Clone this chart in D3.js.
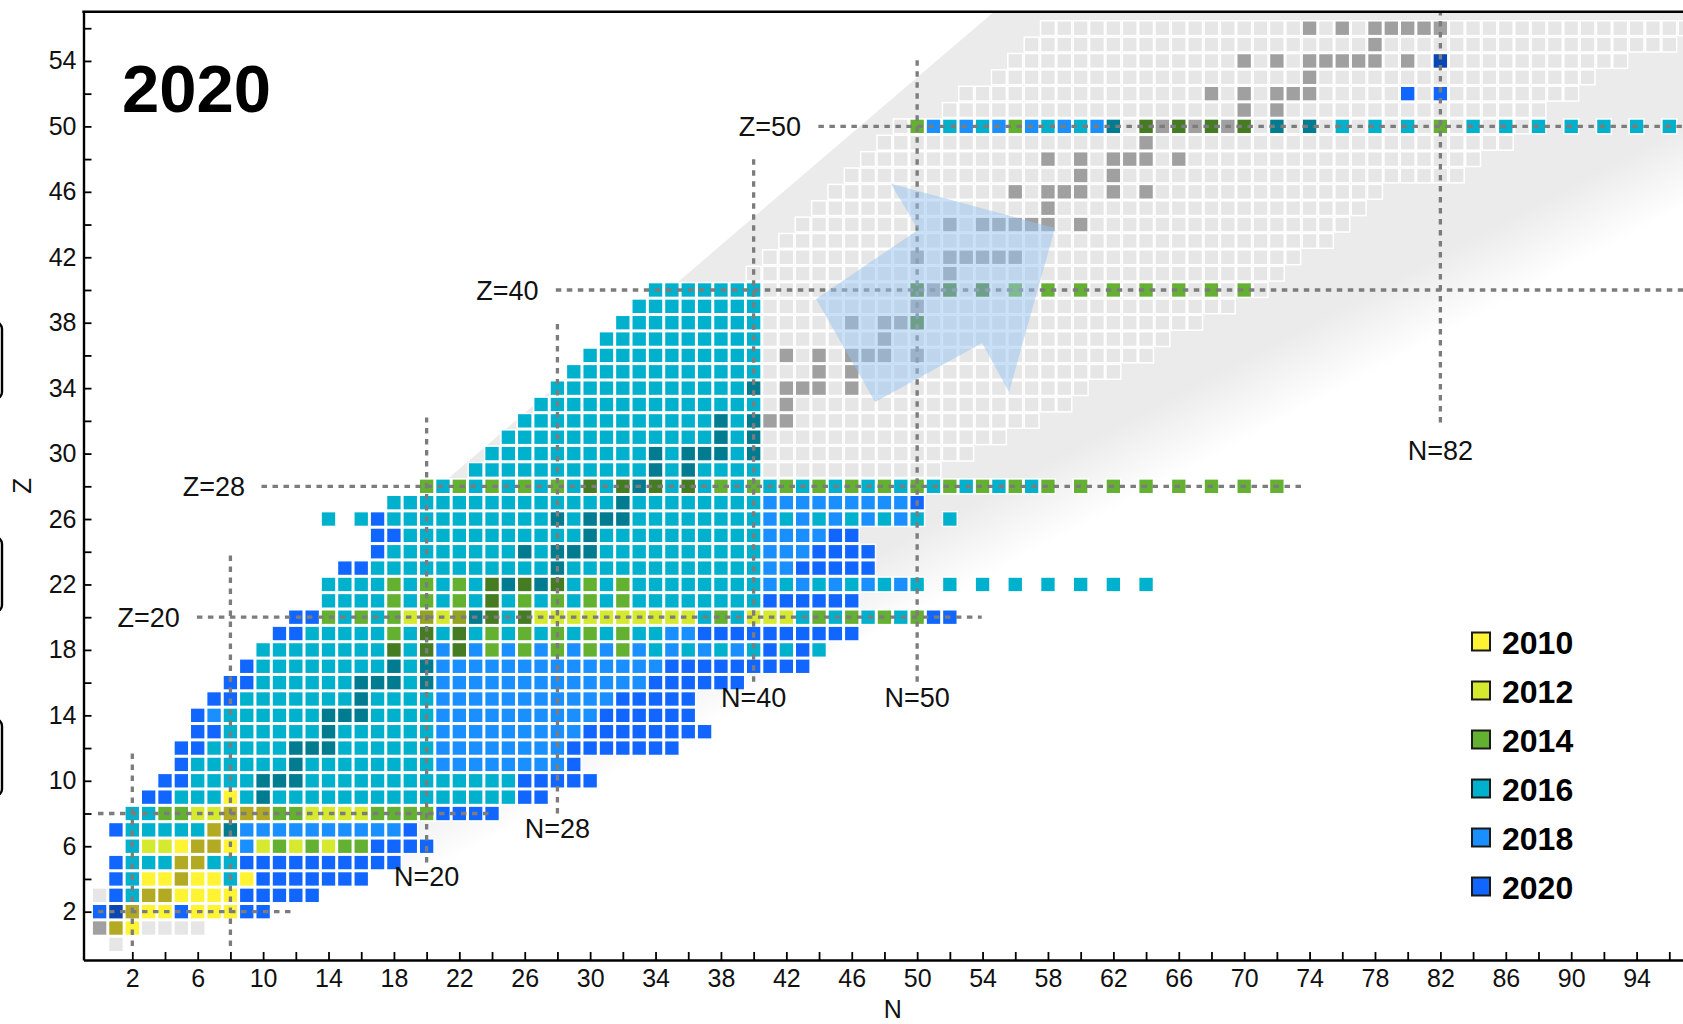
<!DOCTYPE html>
<html>
<head>
<meta charset="utf-8">
<script src="https://cdn.jsdelivr.net/npm/d3@7"></script>
<style>
html,body{margin:0;padding:0;background:#fff;}
svg{display:block;}
text{font-family:"Liberation Sans",Arial,Helvetica,sans-serif;}
</style>
</head>
<body>
<svg id="chart" width="1683" height="1024"></svg>
<script>
// ================= DATA =================
const legendYears = ["2010", "2012", "2014", "2016", "2018", "2020"];
const yearCodes   = ["a", "b", "c", "d", "e", "f"];
const yearColors  = ["#FFF433", "#D5EA2E", "#64B131", "#00B1CD", "#1A8FFF", "#1066FF"];
const unmeasuredColor = "#E6E6E6";

// [Z, first N, cell codes]  (a..f = year computed, g = not computed, . = no cell; digits = repeat count)
const cellRows = [
  [0, 1, "g"],
  [1, 0, "ga2g4"],
  [2, 0, "f2a3fa3f2"],
  [3, 0, "gfda6f5"],
  [4, 1, "fda5daf7"],
  [5, 1, "fd3a2d2f10"],
  [6, 2, "db2a4ebcbcbc2f4"],
  [7, 1, "fd5ade10f"],
  [8, 2, "d2c2b2a3c2b4c4f4"],
  [9, 3, "f2d3ad17f2"],
  [10, 4, "f2d20f5"],
  [11, 5, "fd15e8f"],
  [12, 5, "f2d14e8f7"],
  [13, 6, "f2d13e9f8"],
  [14, 6, "fed13e10f6"],
  [15, 7, "f2d12e11f5"],
  [16, 8, "f2d11e13f6"],
  [17, 9, "fd11e14f9"],
  [18, 10, "d8cdc" + "ecececececec" + "edededed" + "fdfd"],
  [19, 11, "f2d5c" + "dcdcdcdcdcdcdc" + "d2e2f10"],
  [20, 12, "f2cdcdc" + "b4" + "dcdc" + "b10" + "dcd" + "b3" + "dcdcdcdc" + "f2"],
  [21, 14, "d4" + "cdcdcd" + "c" + "dcdcdcdc" + "d8" + "f6"],
  [22, 14, "d4" + "cdcdcd" + "cdcdc" + "dcdc" + "d8" + "ededededed" + ".d.d.d.d.d.d.d"],
  [23, 15, "f2d24e2f5"],
  [24, 17, "fd23e3f4"],
  [25, 17, "f2d22e4f2"],
  [26, 14, "d.df" + "d23" + "ededededed" + ".d"],
  [27, 18, "d23e9f"],
  [28, 20, "cdcdcdcdcd" + "cdcdcdcdcd" + "cdcdcdcdcd" + "cdcdcdcd" + "c.c.c.c.c.c.c.c"],
  [29, 23, "d18"],
  [30, 24, "d17"],
  [31, 25, "d16"],
  [32, 26, "d15"],
  [33, 27, "d14"],
  [34, 28, "d13"],
  [35, 29, "d12"],
  [36, 30, "d11"],
  [37, 31, "d10"],
  [38, 32, "d9.9c"],
  [39, 33, "d8"],
  [40, 34, "d7.9" + "c.c.c.c.c.c.c.c.c.c.c"],
  [50, 50, "cededecededed" + ".c.c.c.c" + ".d.d.d.d.d" + ".c" + ".d.d.d.d.d.d.d"],
  [52, 80, "f.f"],
  [54, 82, "f"]
];

// [Z, N min, N max] nuclei drawn as not yet computed
const unmeasuredRanges = [
  [29, 41, 51], [30, 41, 53], [31, 41, 55], [32, 41, 57], [33, 41, 59], [34, 41, 60],
  [35, 41, 62], [36, 41, 64], [37, 41, 65], [38, 41, 67], [39, 41, 69], [40, 41, 71],
  [41, 40, 72], [42, 41, 73], [43, 42, 75], [44, 43, 76], [45, 44, 77], [46, 45, 78],
  [47, 46, 83], [48, 47, 84], [49, 48, 86], [50, 49, 87], [51, 52, 88], [52, 53, 90],
  [53, 55, 91], [54, 56, 93], [55, 57, 96], [56, 58, 97]
];

// [Z, [N of stable isotopes]]
const stableNuclei = [
  [1, [0, 1]], [2, [1, 2]], [3, [3, 4]], [4, [5]], [5, [5, 6]], [6, [6, 7]], [7, [7, 8]],
  [8, [8, 9, 10]], [9, [10]], [10, [10, 11, 12]], [11, [12]], [12, [12, 13, 14]], [13, [14]],
  [14, [14, 15, 16]], [15, [16]], [16, [16, 17, 18, 20]], [17, [18, 20]], [18, [18, 20, 22]],
  [19, [20, 22]], [20, [20, 22, 23, 24, 26]], [21, [24]], [22, [24, 25, 26, 27, 28]], [23, [28]],
  [24, [26, 28, 29, 30]], [25, [30]], [26, [28, 30, 31, 32]], [27, [32]], [28, [30, 32, 33, 34, 36]],
  [29, [34, 36]], [30, [34, 36, 37, 38, 40]], [31, [38, 40]], [32, [38, 40, 41, 42]], [33, [42]],
  [34, [40, 42, 43, 44, 46]], [35, [44, 46]], [36, [42, 44, 46, 47, 48, 50]], [37, [48]],
  [38, [46, 48, 49, 50]], [39, [50]], [40, [50, 51, 52, 54]], [41, [52]], [42, [50, 52, 53, 54, 55, 56]],
  [44, [52, 54, 55, 56, 57, 58, 60]], [45, [58]], [46, [56, 58, 59, 60, 62, 64]], [47, [60, 62]],
  [48, [58, 60, 62, 63, 64, 66]], [49, [64]], [50, [62, 64, 65, 66, 67, 68, 69, 70, 72, 74]],
  [51, [70, 72]], [52, [68, 70, 72, 73, 74]], [53, [74]], [54, [70, 72, 74, 75, 76, 77, 78, 80, 82]],
  [55, [78]], [56, [74, 76, 78, 79, 80, 81, 82]]
];

// magic-number guide lines: [value, from, to]
const magicNLines = [[2, -0.1, 12], [8, -0.1, 23.8], [20, 5.0, 32.2], [28, 8.0, 38.2], [40, 16.06, 48.1], [50, 16.06, 54.2], [82, 31.9, 57.01]];
const magicZLines = [[2, -0.1, 12], [8, -0.1, 24.1], [20, 5.95, 53.95], [28, 9.9, 73.8], [40, 27.9, 99], [50, 43.96, 99]];
// [text, N, Z, anchor]
const magicLabels = [
  ["Z=20", 4.9, 20, "end"], ["Z=28", 8.9, 28, "end"], ["Z=40", 26.85, 40, "end"], ["Z=50", 42.9, 50, "end"],
  ["N=20", 20, 4.15, "middle"], ["N=28", 28, 7.1, "middle"], ["N=40", 40, 15.1, "middle"],
  ["N=50", 50, 15.1, "middle"], ["N=82", 82, 30.2, "middle"]
];

// arrow outline [N, Z]
const arrowShape = [[58.43, 43.79], [48.4, 46.5], [50.06, 43.68], [43.82, 39.45], [47.43, 33.16], [53.97, 36.76], [55.62, 33.77]];

// background band (drip-line region) [N, Z]
const bandUpperEdge = [[18, 25.65], [54.7, 57.01]];
const bandFadeEdge  = [[18, 5.74], [99, 48.67]];

const xTickLabels = [2, 6, 10, 14, 18, 22, 26, 30, 34, 38, 42, 46, 50, 54, 58, 62, 66, 70, 74, 78, 82, 86, 90, 94];
const yTickLabels = [2, 6, 10, 14, 18, 22, 26, 30, 34, 38, 42, 46, 50, 54];
const titleText = "2020";

// ================= DRAW =================
const svg = d3.select("#chart");
const x = d3.scaleLinear().domain([-0.985, 98]).range([83.5, 1702]);
const y = d3.scaleLinear().domain([-0.954, 57.01]).range([960, 11.7]);
const unit = x(1) - x(0);
const gap = 1.5;                    // white stroke width
const rectSize = unit - gap;        // outer extent = unit
const visible = rectSize - gap;     // visible coloured square
const colorOf = c => c === "g" ? unmeasuredColor : yearColors[yearCodes.indexOf(c)];

function parseCodes(str) {
  const out = [];
  str.replace(/([a-g.])(\d*)/g, (m, c, n) => { const k = n ? +n : 1; for (let i = 0; i < k; i++) out.push(c); return m; });
  return out;
}

// band
const defs = svg.append("defs");
{
  const p0 = [x(bandFadeEdge[0][0]), y(bandFadeEdge[0][1])];
  const p1 = [x(bandFadeEdge[1][0]), y(bandFadeEdge[1][1])];
  const len = Math.hypot(p1[0] - p0[0], p1[1] - p0[1]);
  const d = [(p1[0] - p0[0]) / len, (p1[1] - p0[1]) / len];
  const n = [d[1], -d[0]];
  const mid = [(p0[0] + p1[0]) / 2, (p0[1] + p1[1]) / 2];
  const w = 36;
  const g = defs.append("linearGradient").attr("id", "bandGrad").attr("gradientUnits", "userSpaceOnUse")
    .attr("x1", mid[0] + n[0] * w).attr("y1", mid[1] + n[1] * w)
    .attr("x2", mid[0] - n[0] * w).attr("y2", mid[1] - n[1] * w);
  g.append("stop").attr("offset", 0).attr("stop-color", "#ebebeb").attr("stop-opacity", 1);
  g.append("stop").attr("offset", 1).attr("stop-color", "#ebebeb").attr("stop-opacity", 0);
}
const bandPoly = [
  bandUpperEdge[0], bandUpperEdge[1], [99, y.domain()[1]],
  [bandFadeEdge[1][0], bandFadeEdge[1][1] - 4], [bandFadeEdge[0][0], bandFadeEdge[0][1] - 4]
];
svg.append("path")
  .attr("d", d3.line().x(p => x(p[0])).y(p => y(p[1]))(bandPoly) + "Z")
  .attr("fill", "url(#bandGrad)");

// cells
const cells = [];
unmeasuredRanges.forEach(([Z, a, b]) => { for (let N = a; N <= b; N++) cells.push({ N, Z, c: "g" }); });
cellRows.forEach(([Z, N0, str]) => {
  parseCodes(str).forEach((c, i) => { if (c !== ".") cells.push({ N: N0 + i, Z, c }); });
});
svg.append("g").selectAll("rect").data(cells).join("rect")
  .attr("x", d => x(d.N) - rectSize / 2).attr("y", d => y(d.Z) - rectSize / 2)
  .attr("width", rectSize).attr("height", rectSize)
  .attr("fill", d => colorOf(d.c))
  .attr("stroke", "#fff").attr("stroke-width", gap);

// stable overlay
const stableCells = [];
stableNuclei.forEach(([Z, list]) => list.forEach(N => stableCells.push({ N, Z })));
svg.append("g").selectAll("rect").data(stableCells).join("rect")
  .attr("x", d => x(d.N) - visible / 2).attr("y", d => y(d.Z) - visible / 2)
  .attr("width", visible).attr("height", visible)
  .attr("fill", "#000").attr("fill-opacity", 0.3);

// magic lines
const gm = svg.append("g").attr("stroke", "#7c7c7c").attr("stroke-width", 3.3).attr("stroke-dasharray", "5.5,5.5");
gm.selectAll("line.n").data(magicNLines).join("line").attr("class", "n")
  .attr("x1", d => x(d[0])).attr("x2", d => x(d[0]))
  .attr("y1", d => y(d[1])).attr("y2", d => y(d[2]));
gm.selectAll("line.z").data(magicZLines).join("line").attr("class", "z")
  .attr("y1", d => y(d[0])).attr("y2", d => y(d[0]))
  .attr("x1", d => x(d[1])).attr("x2", d => x(d[2]));

// arrow
svg.append("path")
  .attr("d", d3.line().x(p => x(p[0])).y(p => y(p[1]))(arrowShape) + "Z")
  .attr("fill", "rgb(150,196,240)").attr("fill-opacity", 0.5);

// labels
svg.append("g").selectAll("text").data(magicLabels).join("text")
  .attr("x", d => x(d[1])).attr("y", d => y(d[2])).attr("dy", "0.36em")
  .attr("text-anchor", d => d[3]).attr("font-size", 27).attr("fill", "#111")
  .text(d => d[0]);

// axes
const xAxis = d3.axisBottom(x).tickValues(d3.range(2, 97, 2))
  .tickFormat(d => xTickLabels.includes(d) ? String(d) : "")
  .tickSizeInner(-8).tickSizeOuter(0).tickPadding(9);
const gx = svg.append("g").attr("transform", `translate(0,${y.range()[0]})`).call(xAxis);
const yAxis = d3.axisLeft(y).tickValues(d3.range(2, 57, 2))
  .tickFormat(d => yTickLabels.includes(d) ? String(d) : "")
  .tickSizeInner(-8).tickSizeOuter(0).tickPadding(7);
const gy = svg.append("g").attr("transform", `translate(${x.range()[0]},0)`).call(yAxis);
[gx, gy].forEach(g => {
  g.attr("font-family", null);
  g.select(".domain").attr("stroke", "#000").attr("stroke-width", 2.4);
  g.selectAll(".tick line").attr("stroke", "#000").attr("stroke-width", 1.8);
  g.selectAll(".tick text").attr("font-size", 25).attr("fill", "#111");
});
svg.append("line").attr("x1", x.range()[0] - 1.2).attr("x2", x.range()[1])
  .attr("y1", y.range()[1]).attr("y2", y.range()[1]).attr("stroke", "#000").attr("stroke-width", 2.4);

svg.append("text").attr("x", (x.range()[0] + x.range()[1]) / 2).attr("y", 1018)
  .attr("text-anchor", "middle").attr("font-size", 25).attr("fill", "#111").text("N");
svg.append("text").attr("transform", `translate(31,${(y.range()[0] + y.range()[1]) / 2}) rotate(-90)`)
  .attr("text-anchor", "middle").attr("font-size", 26).attr("fill", "#111").text("Z");

// title
svg.append("text").attr("x", 122).attr("y", 112).attr("font-size", 67).attr("font-weight", "bold")
  .attr("fill", "#000").text(titleText);

// legend
const lg = svg.append("g").attr("transform", "translate(1472,641.5)");
legendYears.forEach((yr, i) => {
  const row = lg.append("g").attr("transform", `translate(0,${i * 49})`);
  row.append("rect").attr("x", 0).attr("y", -9).attr("width", 18).attr("height", 18)
    .attr("fill", yearColors[i]).attr("stroke", "#1a1a1a").attr("stroke-width", 2);
  row.append("text").attr("x", 30).attr("y", 12).attr("font-size", 32).attr("font-weight", "bold")
    .attr("fill", "#000").text(yr);
});

// partial frames at left page edge
[[322, 399], [537, 612], [719, 796]].forEach(([a, b]) => {
  svg.append("rect").attr("x", -20).attr("y", a).attr("width", 22).attr("height", b - a)
    .attr("rx", 7).attr("fill", "none").attr("stroke", "#000").attr("stroke-width", 2.4);
});
</script>
</body>
</html>
